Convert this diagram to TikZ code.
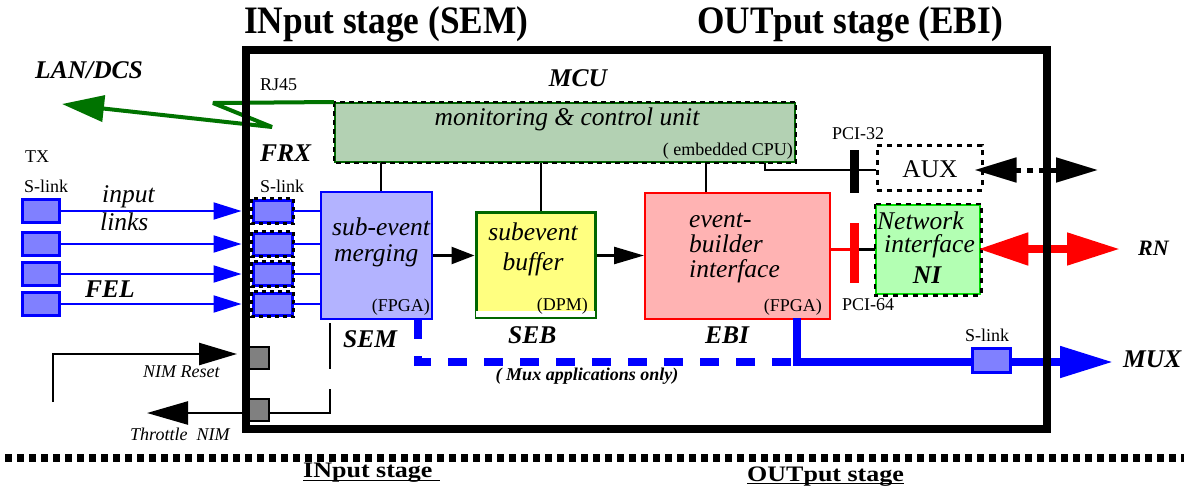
\documentclass[tikz,border=0pt]{standalone}
\usepackage{fontspec}
\setmainfont{Liberation Serif}
\usetikzlibrary{arrows.meta}
\definecolor{slinkfill}{HTML}{8080FF}
\definecolor{semfill}{HTML}{B3B3FF}
\definecolor{sebfill}{HTML}{FFFF80}
\definecolor{ebifill}{HTML}{FFB3B3}
\definecolor{mcufill}{HTML}{B3D1B3}
\definecolor{nifill}{HTML}{B3FFB3}
\definecolor{nigreen}{HTML}{00DD00}
\definecolor{darkgreen}{HTML}{006600}
\definecolor{langreen}{HTML}{007300}
\definecolor{nimgray}{HTML}{808080}
\begin{document}
\begin{tikzpicture}[x=1pt,y=-1pt,
  lbl/.style={inner sep=0pt, anchor=base west},
  body/.style={font=\fontsize{25.5}{28}\selectfont\itshape},
  tag/.style={font=\fontsize{25.5}{28}\selectfont\bfseries\itshape},
  small/.style={font=\fontsize{18}{20}\selectfont},
  smallit/.style={font=\fontsize{18}{20}\selectfont\itshape},
  box/.style={inner sep=0pt, line width=2pt},
  dashover/.style={line width=2.5pt, dash pattern=on 5pt off 4pt},
  slinkbox/.style={draw=blue, line width=3pt, fill=slinkfill, minimum width=37pt, minimum height=23pt, inner sep=0pt},
  nimsq/.style={draw=black, line width=2pt, fill=nimgray, minimum size=22pt, inner sep=0pt},
  conn/.style={line width=2.5pt},
  bus/.style={fill=black, minimum width=9pt, inner sep=0pt}
]
\useasboundingbox (0,0) rectangle (1184,488);
\fill[white] (0,0) rectangle (1184,488);

% ---- titles
\node[lbl, font=\fontsize{36}{40}\selectfont\bfseries] (ttlin) at (244,33) {\scalebox{0.98}[1.08]{INput stage (SEM)}};
\node[lbl, font=\fontsize{36}{40}\selectfont\bfseries] (ttlout) at (697,33) {\scalebox{0.98}[1.08]{OUTput stage (EBI)}};

% ---- main blocks
\node[box, fill=mcufill, draw=darkgreen, minimum width=460pt, minimum height=59pt] (mcu) at (565,132.5) {};
\draw[dashover] (mcu.north west) rectangle (mcu.south east);
\node[box, fill=semfill, draw=blue, minimum width=111pt, minimum height=127pt] (sem) at (376.5,255.5) {};
\node[box, fill=sebfill, draw=darkgreen, line width=3pt, minimum width=119pt, minimum height=105pt] (seb) at (535.5,264.5) {};
\fill[white] ([xshift=1.5pt,yshift=1.5pt]seb.south west) rectangle ([xshift=-1.5pt,yshift=8pt]seb.south east);
\node[box, fill=ebifill, draw=red, minimum width=185pt, minimum height=126pt] (ebi) at (737.5,256) {};
\node[box, draw=black, line width=3pt, dash pattern=on 5pt off 5pt, minimum width=105pt, minimum height=45pt] (aux) at (929.5,167.5) {};
\node[box, fill=nifill, draw=nigreen, line width=2.5pt, minimum width=104pt, minimum height=89pt] (ni) at (928,249.5) {};
\draw[line width=2.5pt, dash pattern=on 5pt off 5pt] (ni.north west) rectangle (ni.south east);

% ---- bus bars
\node[bus, minimum height=43pt] (bar32) at (854.5,171.5) {};
\node[bus, fill=red, minimum height=60pt] (bar64) at (854.5,253) {};

% ---- input links
\foreach \i/\y in {1/211,2/244,3/274,4/304}{
  \node[slinkbox] (l\i) at (40.5,\y) {};
  \node[slinkbox, minimum width=39pt, minimum height=22pt] (r\i) at (272.5,\y) {};
  \draw[line width=2.5pt, dash pattern=on 4pt off 4pt] (r\i.north west) rectangle (r\i.south east);
  \draw[blue, line width=2pt, -{Triangle[length=28pt,width=17pt]}, shorten >=10pt] (l\i.east) -- (r\i.west);
  \draw[blue, line width=2pt] (r\i.east) -- (r\i.east -| sem.west);
}

% ---- data flow
\draw[conn, -{Triangle[length=23pt,width=17pt]}] (sem.east) -- (sem.east -| seb.west);
\draw[conn, -{Triangle[length=30pt,width=17pt]}] (seb.east |- sem.east) -- (sem.east -| ebi.west);

% ---- control connections
\draw[conn] ([xshift=4.5pt]sem.north) -- ([xshift=4.5pt]sem.north |- mcu.south);
\draw[conn] ([xshift=5.5pt]seb.north) -- ([xshift=5.5pt]seb.north |- mcu.south);
\draw[conn] ([xshift=-31.5pt]ebi.north) -- ([xshift=-31.5pt]ebi.north |- mcu.south);
\draw[conn] ([xshift=-31pt]mcu.south east) |- ([yshift=-2.5pt]aux.west);
\draw[red, line width=2.5pt] (ebi.east |- ni.west) -- (bar64.west |- ni.west);
\draw[conn] (bar64.east |- ni.west) -- (ni.west);

% ---- LAN link
\coordinate (lanA) at (213,103);
\coordinate (lanB) at (272,127);
\coordinate (lanTip) at (62,104);
\draw[langreen, line width=4pt, line join=bevel, -{Triangle[length=42pt,width=26pt]}] (mcu.north west) -- (lanA) -- (lanB) -- (lanTip);

% ---- AUX and RN external links
\coordinate (auxend) at (1098,170);
\draw[line width=5pt, dash pattern=on 6pt off 6pt, {Triangle[length=42pt,width=24pt]}-{Triangle[length=42pt,width=24pt]}] ([xshift=-9pt,yshift=-2.5pt]aux.east) -- (auxend);
\coordinate (rnend) at (1120,249);
\draw[red, line width=8pt, {Triangle[length=50pt,width=31pt]}-{Triangle[length=53pt,width=31pt]}] ([xshift=-3pt,yshift=0.5pt]ni.east) -- (rnend);

% ---- MUX output
\coordinate (ebiout) at ([xshift=-34pt]ebi.south east);
\coordinate (muxend) at (1113,362);
\draw[blue, line width=8pt, dash pattern=on 19pt off 17pt] ([xshift=-15pt]sem.south east) |- (ebiout |- muxend);
\draw[blue, line width=8pt, -{Triangle[length=53pt,width=30pt]}] ([yshift=2pt]ebiout) |- (muxend);
\node[slinkbox, minimum width=38pt, minimum height=24pt] (mslink) at (991,360) {};

% ---- NIM signals
\node[nimsq] (nim1) at (258,358) {};
\node[nimsq] (nim2) at (258,409.5) {};
\coordinate (rstfoot) at (53,402);
\coordinate (thrend) at (147,413);
\draw[conn, -{Triangle[length=38pt,width=22pt]}] (rstfoot) |- ([xshift=-9pt,yshift=4pt]nim1.west);
\draw[conn, -{Triangle[length=41pt,width=23pt]}] ([yshift=-3.5pt]nim2.west) -- (thrend);
\draw[conn, dash pattern=on 46pt off 20pt on 400pt] ([xshift=10pt,yshift=-3pt]sem.south west) |- ([yshift=-3.5pt]nim2.east);

% ---- module frame
\node[draw, line width=8pt, minimum width=801pt, minimum height=379pt, inner sep=0pt] (frame) at (646.5,239.5) {};

% ---- stage separator
\coordinate (sepL) at (5,458);
\coordinate (sepR) at (1184,458);
\draw[line width=8pt, dash pattern=on 7pt off 5pt] (sepL) -- (sepR);

% ---- labels
\node[lbl, tag] (landcs) at (35,78) {LAN/DCS};
\node[lbl, small] (rj45) at (260,90) {RJ45};
\node[lbl, tag, anchor=base] (mcutag) at (578,86) {MCU};
\node[lbl, tag] (frx) at (260,161) {FRX};
\node[lbl, small] (tx) at (25,162) {TX};
\node[lbl, small] (slinkL) at (24,192) {S-link};
\node[lbl, small] (slinkR) at (260,192) {S-link};
\node[lbl, body] (inp) at (102,202) {input};
\node[lbl, body] (lnk) at (100,230) {links};
\node[lbl, tag] (fel) at (85,297) {FEL};
\node[lbl, body, anchor=base] (mcutxt) at (567,125) {monitoring \& control unit};
\node[lbl, small, anchor=base east] (cpu) at (793,155) {( embedded CPU)};
\node[lbl, body] (semt1) at (332,235) {sub-event};
\node[lbl, body] (semt2) at (334,261) {merging};
\node[lbl, small, anchor=base east] (semfp) at (430,311) {(FPGA)};
\node[lbl, body, anchor=base] (sebt1) at (533,240) {subevent};
\node[lbl, body, anchor=base] (sebt2) at (533,270) {buffer};
\node[lbl, small, anchor=base east] (dpm) at (588,310) {(DPM)};
\node[lbl, body] (ebit1) at (689,227) {event-};
\node[lbl, body] (ebit2) at (689,252) {builder};
\node[lbl, body] (ebit3) at (689,277) {interface};
\node[lbl, small, anchor=base east] (ebifp) at (822,311) {(FPGA)};
\node[lbl, tag] (semtag) at (343,347) {SEM};
\node[lbl, tag] (sebtag) at (508,343) {SEB};
\node[lbl, tag] (ebitag) at (705,343) {EBI};
\node[lbl, font=\fontsize{18}{20}\selectfont\bfseries\itshape, anchor=base] (muxonly) at (587,380) {( Mux applications only)};
\node[lbl, small] (pci32) at (832,139) {PCI-32};
\node[lbl, small] (pci64) at (842,310) {PCI-64};
\node[lbl, font=\fontsize{25.5}{28}\selectfont, anchor=base] (auxt) at (930,177) {AUX};
\node[lbl, body] (nit1) at (877,229) {Network};
\node[lbl, body] (nit2) at (884,252) {interface};
\node[lbl, tag, anchor=base] (nit3) at (927,283) {NI};
\node[lbl, font=\fontsize{22}{24}\selectfont\bfseries\itshape] (rn) at (1138,255) {RN};
\node[lbl, tag] (mux) at (1123,367) {MUX};
\node[lbl, small, anchor=base] (mslinkt) at (987,341) {S-link};
\node[lbl, smallit] (nimreset) at (143,377) {NIM Reset};
\node[lbl, smallit] (thrnim) at (130,440) {Throttle\ \ NIM};

% ---- stage captions
\node[lbl, font=\fontsize{26}{28}\selectfont\bfseries] (instg) at (303,477) {\scalebox{1}[0.85]{INput stage}};
\draw[line width=1.6pt] ([yshift=-3.5pt]instg.base west) -- ([yshift=-3.5pt,xshift=7pt]instg.base east);
\node[lbl, font=\fontsize{26}{28}\selectfont\bfseries] (outstg) at (747,481) {\scalebox{1}[0.85]{OUTput stage}};
\draw[line width=1.6pt] ([yshift=-2.5pt]outstg.base west) -- ([yshift=-2.5pt]outstg.base east);
\end{tikzpicture}
\end{document}
